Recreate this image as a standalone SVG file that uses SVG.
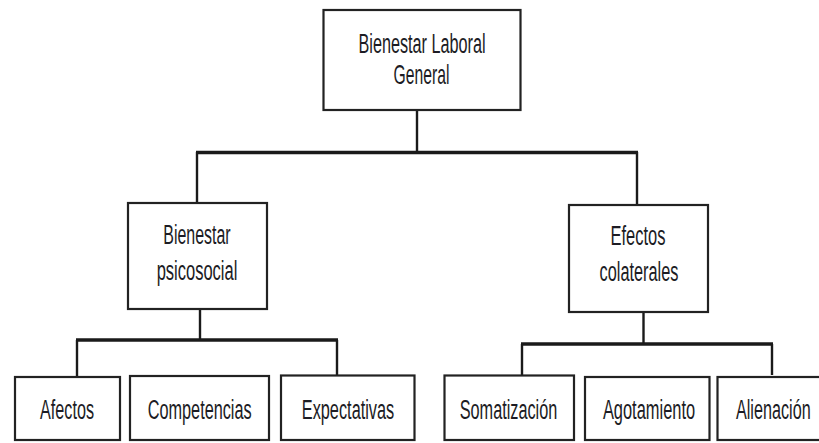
<svg xmlns="http://www.w3.org/2000/svg" width="819" height="443" viewBox="0 0 819 443">
<style>
.box{fill:#fff;stroke:#222;stroke-width:2.2}
.lbl{font-family:"Liberation Sans",Arial,sans-serif;font-size:28px;fill:#1c1c24;text-anchor:middle}
.bar{stroke:#1a1a1a;stroke-width:3.5;fill:none}
.drop{stroke:#1a1a1a;stroke-width:2.4;fill:none}
</style>
<rect width="819" height="443" fill="#fff"/>
<g id="connectors">
<line class="drop" x1="417" y1="110" x2="417" y2="152"/>
<line class="bar" x1="196" y1="152.5" x2="638" y2="152.5"/>
<line class="drop" x1="197" y1="152" x2="197" y2="203"/>
<line class="drop" x1="637" y1="152" x2="637" y2="205"/>
<line class="drop" x1="200" y1="309" x2="200" y2="340"/>
<line class="bar" x1="76" y1="340" x2="338" y2="340"/>
<line class="drop" x1="77" y1="340" x2="77" y2="377"/>
<line class="drop" x1="337" y1="340" x2="337" y2="375"/>
<line class="drop" x1="643.5" y1="312" x2="643.5" y2="344"/>
<line class="bar" x1="521" y1="344" x2="773" y2="344"/>
<line class="drop" x1="522" y1="344" x2="522" y2="375"/>
<line class="drop" x1="772" y1="344" x2="772" y2="375"/>
</g>
<g id="n-general">
<rect class="box" x="323.5" y="10" width="197" height="100"/>
<text class="lbl" transform="translate(422 53) scale(0.579 1)">Bienestar Laboral</text>
<text class="lbl" transform="translate(421.5 84) scale(0.56 1)">General</text>
</g>
<g id="n-psicosocial">
<rect class="box" x="128" y="203" width="139" height="106"/>
<text class="lbl" transform="translate(197 243.5) scale(0.57 1)">Bienestar</text>
<text class="lbl" transform="translate(197 279.5) scale(0.59 1)">psicosocial</text>
</g>
<g id="n-colaterales">
<rect class="box" x="569" y="205" width="139" height="107"/>
<text class="lbl" transform="translate(638 245) scale(0.589 1)">Efectos</text>
<text class="lbl" transform="translate(639 281) scale(0.583 1)">colaterales</text>
</g>
<g id="n-afectos">
<rect class="box" x="15" y="377" width="105" height="63"/>
<text class="lbl" transform="translate(67 418.5) scale(0.578 1)">Afectos</text>
</g>
<g id="n-competencias">
<rect class="box" x="130" y="376" width="139" height="64"/>
<text class="lbl" transform="translate(199.7 418.5) scale(0.581 1)">Competencias</text>
</g>
<g id="n-expectativas">
<rect class="box" x="281" y="375.5" width="133.5" height="64.5"/>
<text class="lbl" transform="translate(348 418.5) scale(0.583 1)">Expectativas</text>
</g>
<g id="n-somatizacion">
<rect class="box" x="444.5" y="375.5" width="129.5" height="64.5"/>
<text class="lbl" transform="translate(508.5 419) scale(0.581 1)">Somatización</text>
</g>
<g id="n-agotamiento">
<rect class="box" x="585" y="377" width="124.5" height="63"/>
<text class="lbl" transform="translate(649 419) scale(0.587 1)">Agotamiento</text>
</g>
<g id="n-alienacion">
<rect class="box" x="717.5" y="377" width="115" height="63"/>
<text class="lbl" transform="translate(773.3 419) scale(0.578 1)">Alienación</text>
</g>
</svg>
